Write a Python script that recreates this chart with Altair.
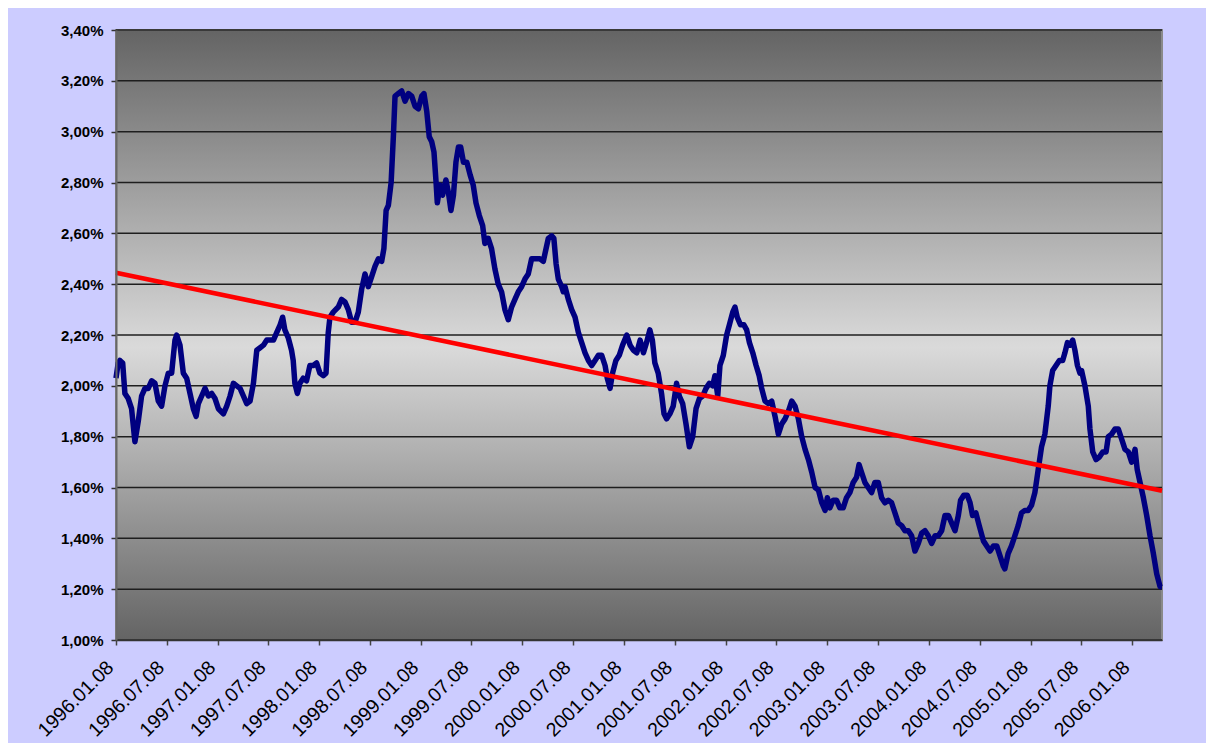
import altair as alt
import pandas as pd

START = "1996-01-08"

# days after 1996-01-08 and the rate (%)
day_offsets = [
    0, 8, 14, 24, 32, 44, 56, 68, 80, 92, 104, 116, 128, 140, 152, 164, 176, 188, 200, 212,
    218, 230, 242, 254, 266, 278, 288, 296, 308, 320, 332, 344, 356, 368, 386, 398, 410, 422, 434, 446,
    458, 470, 482, 494, 506, 518, 530, 542, 554, 566, 578, 590, 599, 607, 619, 631, 637, 643, 652, 661,
    673, 685, 697, 709, 721, 733, 745, 755, 763,
    769, 781, 799, 811, 823, 835, 847, 859, 871, 883, 895, 907, 919, 931, 943, 955, 963, 971, 979, 989,
    997, 1003, 1015, 1027, 1039, 1051, 1063, 1075, 1087, 1099, 1107, 1117, 1126, 1135, 1143, 1150, 1155,
    1165, 1174, 1186, 1195, 1204, 1213, 1222, 1231, 1239, 1249, 1261, 1273, 1284, 1294, 1306, 1318, 1326,
    1338, 1350, 1362, 1374, 1386, 1398, 1410, 1422, 1434, 1446, 1458, 1470, 1482, 1494,
    1500, 1512, 1524, 1536, 1542, 1554, 1566, 1574, 1582, 1590, 1602, 1608, 1614, 1626, 1638, 1650, 1662,
    1674, 1686, 1698, 1710, 1722, 1734, 1746, 1758, 1766, 1776, 1785, 1797, 1809, 1821, 1836, 1848, 1860,
    1872, 1884, 1896, 1907, 1919, 1928, 1937, 1949, 1961, 1970, 1979, 1991, 2003, 2015, 2025, 2037, 2049,
    2061, 2073, 2085, 2097, 2109, 2121, 2133, 2145, 2153, 2163, 2171, 2183, 2195, 2205, 2217, 2225, 2233,
    2245, 2257, 2267, 2277, 2289, 2301, 2312,
    2321, 2333, 2345, 2357, 2369, 2381, 2393, 2405, 2417, 2429, 2441, 2453, 2465, 2477, 2489, 2501, 2513,
    2525, 2537, 2549, 2557, 2566, 2578, 2590, 2602, 2614, 2626, 2638, 2650, 2662, 2671, 2680, 2692, 2704,
    2716, 2728, 2740, 2752, 2764, 2776, 2788, 2800, 2812, 2824, 2836, 2848, 2860, 2872, 2884, 2896, 2908,
    2920, 2932, 2944, 2956, 2968, 2980, 2992, 3004, 3016, 3028, 3036, 3048, 3060, 3070, 3079, 3091, 3103,
    3118, 3130, 3142, 3154, 3166, 3178, 3190, 3195, 3207, 3219, 3231, 3243, 3255, 3267, 3279, 3291, 3303,
    3315, 3327, 3339, 3351, 3357, 3367, 3379, 3391, 3403, 3411, 3420, 3429, 3439, 3447, 3456, 3465, 3471,
    3483, 3495, 3501, 3511, 3523, 3535, 3547, 3559, 3567, 3579, 3591, 3603, 3615, 3627, 3639, 3651, 3663,
    3671, 3681, 3693, 3705, 3717, 3729, 3741, 3753, 3760,
]

rates = [
    2.03, 2.09, 2.10, 2.09, 1.97, 1.95, 1.91, 1.78, 1.86, 1.96, 1.99, 1.99, 2.02, 2.01, 1.94, 1.92, 2.00, 2.05, 2.05, 2.18,
    2.20, 2.16, 2.05, 2.03, 1.97, 1.91, 1.88, 1.93, 1.96, 1.99, 1.96, 1.97, 1.95, 1.91, 1.89, 1.92, 1.96, 2.01, 2.00, 1.99,
    1.96, 1.93, 1.94, 2.01, 2.14, 2.15, 2.16, 2.18, 2.18, 2.18, 2.21, 2.24, 2.27, 2.22, 2.19, 2.14, 2.10, 2.01, 1.97, 2.01,
    2.03, 2.02, 2.08, 2.08, 2.09, 2.05, 2.04, 2.05, 2.21,
    2.27, 2.29, 2.31, 2.34, 2.33, 2.30, 2.25, 2.25, 2.29, 2.38, 2.44, 2.39, 2.43, 2.47, 2.50, 2.49, 2.54, 2.69, 2.71, 2.80,
    2.98, 3.14, 3.15, 3.16, 3.12, 3.15, 3.14, 3.10, 3.09, 3.14, 3.15, 3.08, 2.98, 2.96, 2.92, 2.81, 2.72,
    2.79, 2.75, 2.81, 2.76, 2.69, 2.75, 2.88, 2.94, 2.94, 2.88, 2.88, 2.83, 2.79, 2.72, 2.67, 2.63, 2.56,
    2.58, 2.54, 2.46, 2.40, 2.37, 2.30, 2.26, 2.31, 2.34, 2.37, 2.39, 2.42, 2.44, 2.50,
    2.50, 2.50, 2.50, 2.49, 2.52, 2.58, 2.59, 2.58, 2.48, 2.42, 2.39, 2.37, 2.39, 2.34, 2.30, 2.27, 2.21,
    2.17, 2.13, 2.10, 2.08, 2.10, 2.12, 2.12, 2.08, 2.03, 1.99, 2.05, 2.10, 2.12, 2.16, 2.20, 2.16, 2.14,
    2.13, 2.18, 2.13, 2.17, 2.22, 2.18, 2.09, 2.05, 1.97, 1.89, 1.87, 1.89, 1.92, 2.01, 1.96, 1.93, 1.85,
    1.76, 1.80, 1.91, 1.95, 1.96, 1.99, 2.01, 2.00, 2.04, 1.96, 2.08, 2.12, 2.20, 2.24, 2.29, 2.31, 2.27,
    2.24, 2.24, 2.22, 2.17, 2.13, 2.08, 2.04,
    1.99, 1.94, 1.93, 1.94, 1.88, 1.81, 1.85, 1.87, 1.90, 1.94, 1.92, 1.87, 1.80, 1.75, 1.71, 1.66, 1.60,
    1.59, 1.54, 1.51, 1.56, 1.52, 1.55, 1.55, 1.52, 1.52, 1.56, 1.58, 1.62, 1.64, 1.69, 1.66, 1.62, 1.60,
    1.58, 1.62, 1.62, 1.56, 1.54, 1.55, 1.54, 1.50, 1.46, 1.45, 1.43, 1.43, 1.41, 1.35, 1.38, 1.42, 1.43,
    1.41, 1.38, 1.41, 1.41, 1.43, 1.49, 1.49, 1.46, 1.43, 1.49, 1.55, 1.57, 1.57, 1.54, 1.49, 1.50, 1.45,
    1.39, 1.37, 1.35, 1.37, 1.37, 1.33, 1.29, 1.28, 1.34, 1.37, 1.41, 1.45, 1.50, 1.51, 1.51, 1.53, 1.58,
    1.67, 1.76, 1.81, 1.92, 2.00, 2.06, 2.08, 2.10, 2.10, 2.13, 2.17, 2.16, 2.18, 2.14, 2.08, 2.05, 2.06,
    2.00, 1.92, 1.83, 1.74, 1.71, 1.72, 1.74, 1.74, 1.80, 1.81, 1.83, 1.83, 1.79, 1.75, 1.74, 1.70, 1.75,
    1.67, 1.62, 1.56, 1.49, 1.41, 1.34, 1.26, 1.21, 1.21,
]

# linear trend line (start / end)
trend_days = [0, 3760]
trend_rates = [2.445, 1.587]

# axis ticks
x_tick_dates = [(1996 + i // 2, 1 if i % 2 == 0 else 7, 8) for i in range(21)]
y_ticks = [1.0, 1.2, 1.4, 1.6, 1.8, 2.0, 2.2, 2.4, 2.6, 2.8, 3.0, 3.2, 3.4]
x_domain = [(1996, 1, 8), (2006, 4, 25)]

start = pd.Timestamp(START)


def to_dates(days):
    return [(start + pd.Timedelta(days=d)).strftime("%Y-%m-%d") for d in days]


series_df = pd.DataFrame({"date": to_dates(day_offsets), "rate": rates})
trend_df = pd.DataFrame({"date": to_dates(trend_days), "rate": trend_rates})
grid_df = pd.DataFrame({"rate": y_ticks})

W, H = 1046, 610

x_scale = alt.Scale(
    type="utc",
    domain=[alt.DateTime(year=y, month=m, date=d, utc=True) for (y, m, d) in x_domain],
)
y_scale = alt.Scale(domain=[1.0, 3.4], nice=False, zero=False)

X_ENC = alt.X(
    "date:T",
    scale=x_scale,
    title=None,
    axis=alt.Axis(
        values=[alt.DateTime(year=y, month=m, date=d, utc=True) for (y, m, d) in x_tick_dates],
        labelExpr="utcFormat(datum.value, '%Y.%m.%d')",
        labelAngle=-45,
        labelAlign="right",
        labelBaseline="middle",
        labelFont="Liberation Sans",
        labelFontSize=19.5,
        labelColor="#000000",
        labelPadding=19,
        labelOffset=-6,
        labelOverlap=False,
        labelBound=False,
        labelFlush=False,
        tickSize=5,
        tickColor="#444444",
        tickWidth=1.5,
        domainColor="#333333",
        domainWidth=1.5,
        grid=False,
        zindex=1,
    ),
)

Y_ENC = alt.Y(
    "rate:Q",
    scale=y_scale,
    title=None,
    axis=alt.Axis(
        values=y_ticks,
        labelExpr="replace(format(datum.value, '.2f'), '.', ',') + '%'",
        labelFont="Liberation Sans",
        labelFontSize=15,
        labelFontWeight="bold",
        labelColor="#000000",
        labelPadding=8,
        tickSize=5,
        tickColor="#333333",
        tickWidth=1.5,
        domainColor="#666666",
        domainWidth=2,
        grid=False,
        zindex=1,
    ),
)

background = alt.Chart(pd.DataFrame({"k": [0]})).mark_rect(
    fill=alt.Gradient(
        gradient="linear",
        x1=0, x2=0, y1=0, y2=1,
        stops=[
            alt.GradientStop(color="#646464", offset=0),
            alt.GradientStop(color="#dadada", offset=0.52),
            alt.GradientStop(color="#646464", offset=1),
        ],
    ),
    stroke="#8a8a8a",
    strokeWidth=2,
).encode(x=alt.value(0), x2=alt.value(W), y=alt.value(0), y2=alt.value(H))

grid = alt.Chart(grid_df).mark_rule(color="#1e1e1e", strokeWidth=1.5).encode(y=Y_ENC)

line = alt.Chart(series_df).mark_line(
    color="#000080", strokeWidth=5.5, strokeJoin="round"
).encode(x=X_ENC, y=Y_ENC)

trend = alt.Chart(trend_df).mark_line(color="#ff0000", strokeWidth=4.5).encode(
    x=X_ENC, y=Y_ENC
)

chart = alt.layer(background, grid, line, trend).properties(
    width=W,
    height=H,
    background="#ccccff",
    padding={"left": 108, "top": 22, "right": 44, "bottom": 103},
    autosize=alt.AutoSizeParams(type="none"),
).configure_view(stroke=None)

chart.save("out.html", embed_options={"renderer": "svg", "actions": False})
